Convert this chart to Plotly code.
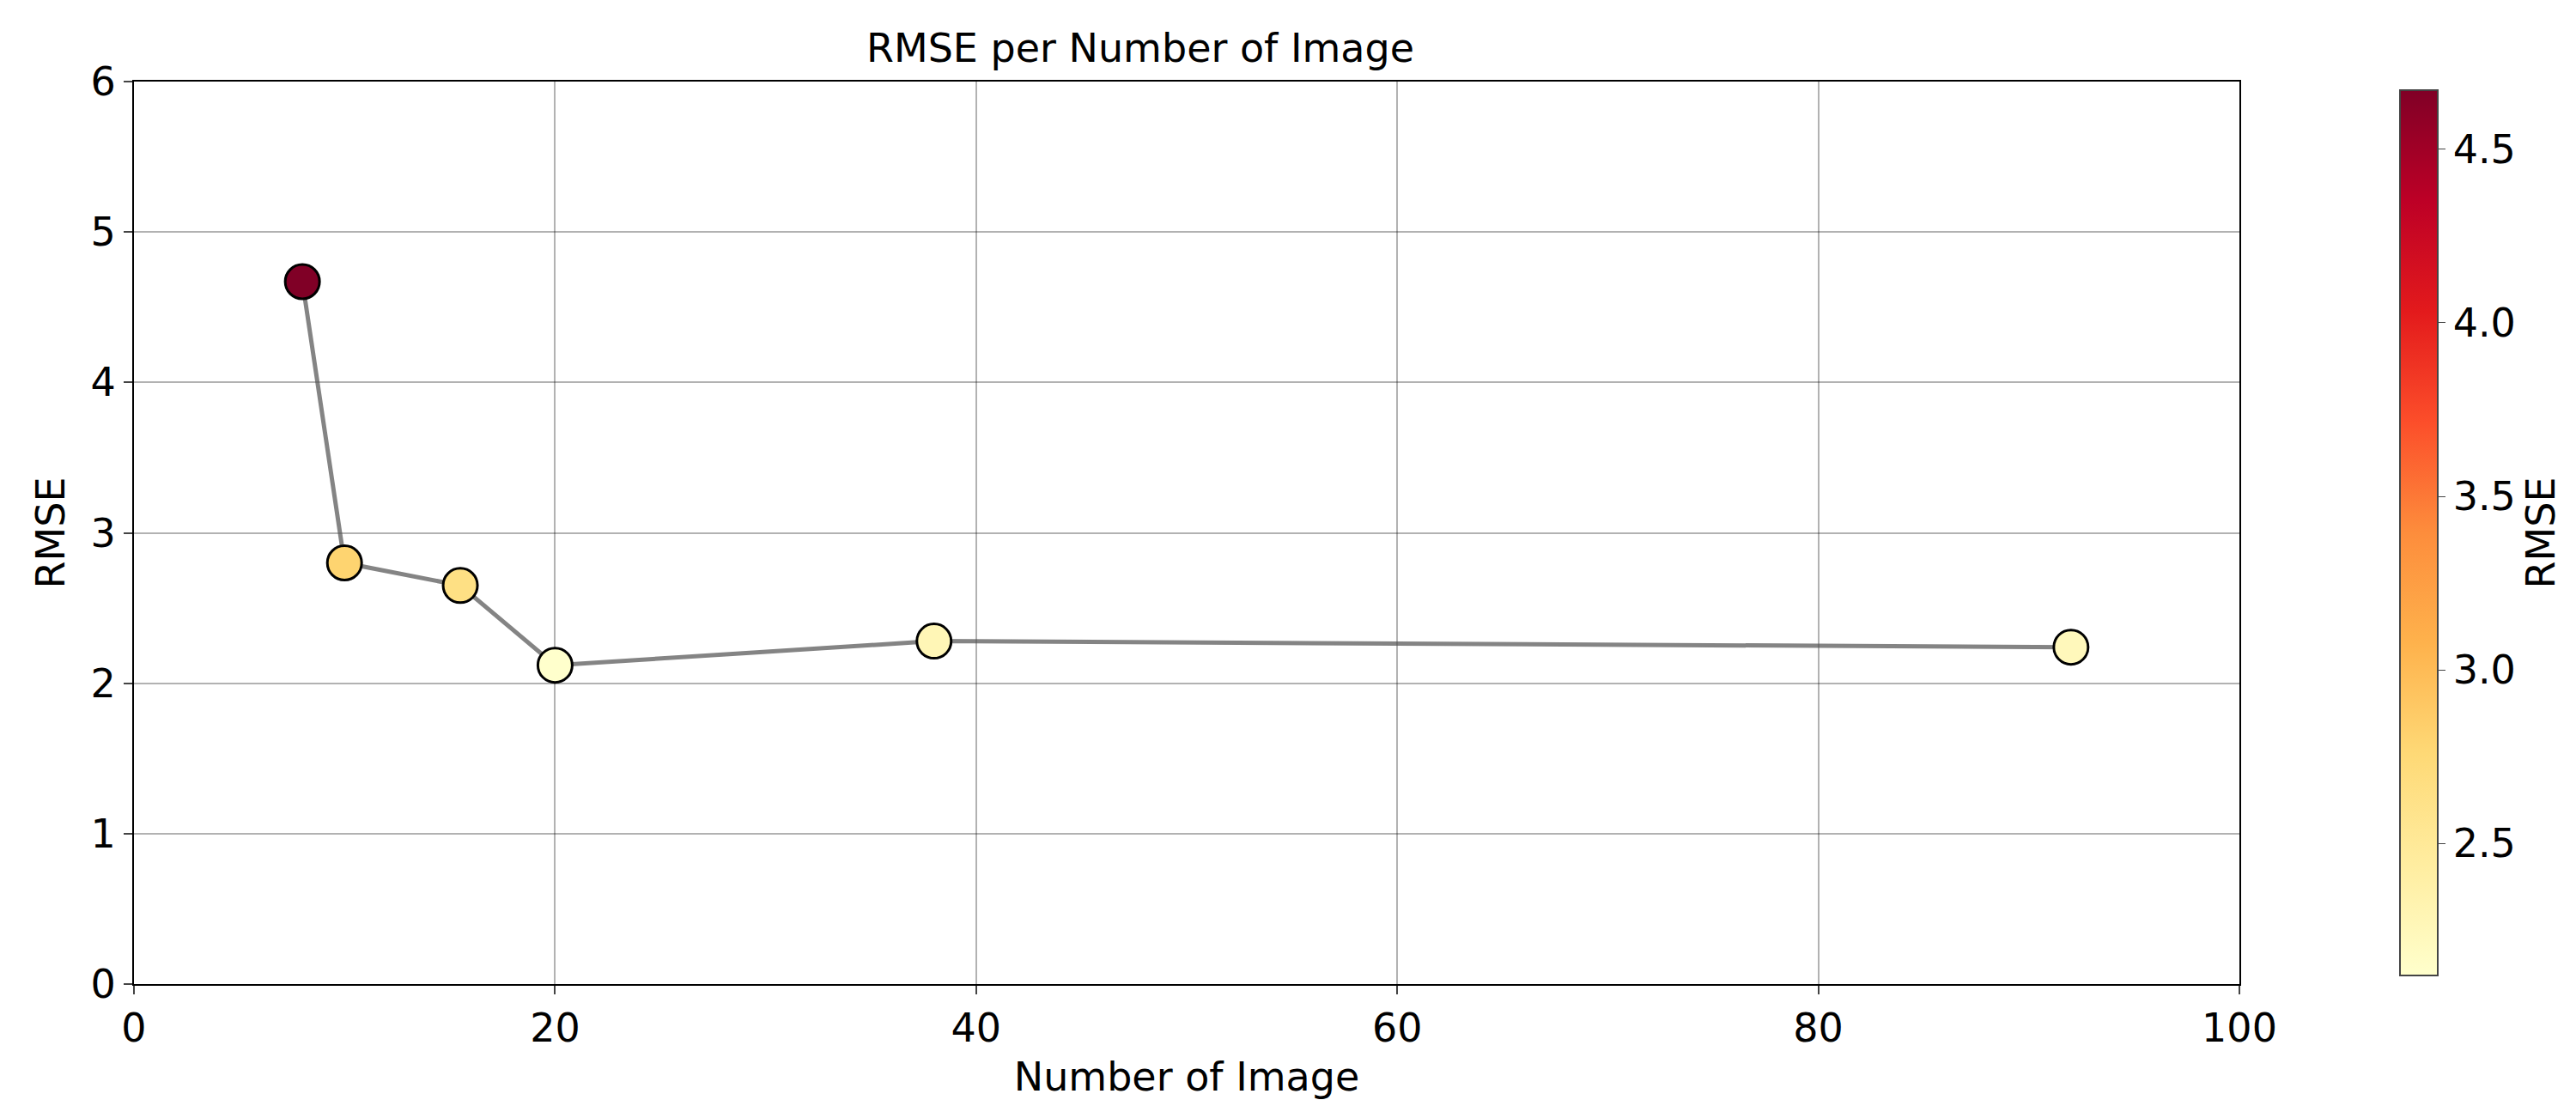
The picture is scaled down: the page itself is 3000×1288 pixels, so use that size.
import plotly.graph_objects as go

num_images = [8, 10, 15.5, 20, 38, 92]
rmse = [4.67, 2.80, 2.65, 2.12, 2.28, 2.24]

fig = go.Figure()
fig.add_trace(go.Scatter(x=num_images, y=rmse, mode="lines",
                         line=dict(color="rgba(80,80,80,0.7)", width=5), showlegend=False))
fig.add_trace(go.Scatter(x=num_images, y=rmse, mode="markers", showlegend=False,
                         marker=dict(size=40, color=rmse, colorscale="YlOrRd",
                                     cmin=min(rmse), cmax=max(rmse),
                                     line=dict(color="black", width=3),
                                     colorbar=dict(title=dict(text="RMSE", side="right", font=dict(size=46)),
                                                   tickfont=dict(size=46), thickness=44, len=1.0, y=0.5,
                                                   x=1.072, xanchor="left", outlinewidth=2,
                                                   tickvals=[2.5, 3.0, 3.5, 4.0, 4.5],
                                                   ticktext=["2.5", "3.0", "3.5", "4.0", "4.5"], ticks="outside",
                                                   ticklen=8))))
ax = dict(showgrid=True, gridcolor="rgba(0,0,0,0.3)", gridwidth=2, showline=True, linecolor="black",
          linewidth=2, mirror=True, ticks="outside", ticklen=10, tickwidth=2, tickfont=dict(size=46), zeroline=False)
fig.update_xaxes(ax, range=[0, 100], dtick=20, title=dict(text="Number of Image", font=dict(size=46)))
fig.update_yaxes(ax, range=[0, 6], dtick=1, title=dict(text="RMSE", font=dict(size=46)))
fig.update_layout(width=3000, height=1288, plot_bgcolor="white", paper_bgcolor="white",
                  font=dict(family="DejaVu Sans", color="black"),
                  title=dict(text="RMSE per Number of Image", x=0.44, xanchor="center", y=0.975, font=dict(size=46)),
                  margin=dict(l=148, r=395, t=87, b=150))
fig.write_html("out.html")
